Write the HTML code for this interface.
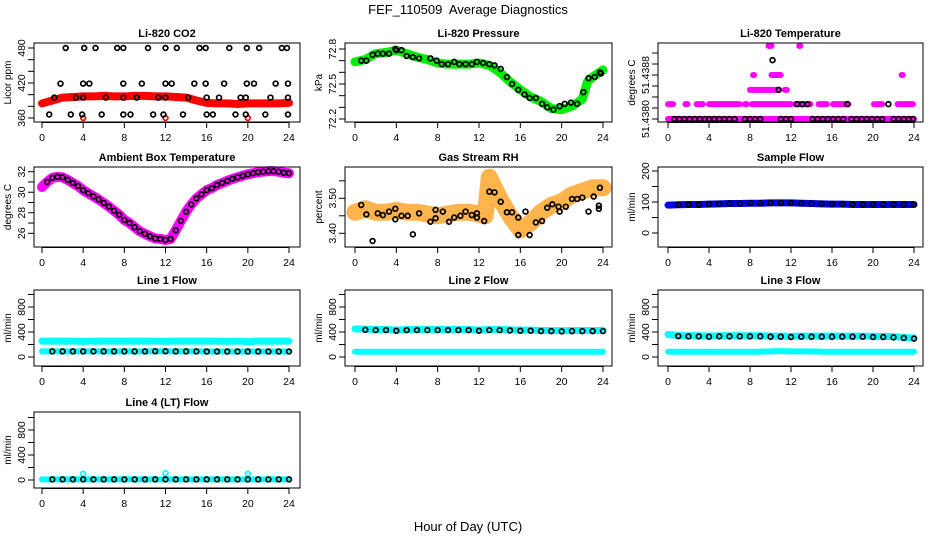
<!DOCTYPE html>
<html><head><meta charset="utf-8"><style>
html,body{margin:0;padding:0;background:#fff}
svg{display:block;font-family:"Liberation Sans",Arial,sans-serif}
</style></head><body>
<svg id="chart" width="936" height="540" viewBox="0 0 936 540">
<rect width="936" height="540" fill="#fff"/>
<text x="468" y="14" text-anchor="middle" font-size="13" xml:space="preserve">FEF_110509&#160; Average Diagnostics</text>
<text x="468" y="531" text-anchor="middle" font-size="13">Hour of Day (UTC)</text>
</svg>
<script>
// ---- data ----
const hourly = [0,1,2,3,4,5,6,7,8,9,10,11,12,13,14,15,16,17,18,19,20,21,22,23,24];
const co2Band = [385,390,395,396,397,397,398,397,397,398,398,397,397,396,395,390,386,385,385,384,385,385,385,385,386];
const co2PtH = [2.3,4.1,5.2,7.3,7.9,10.3,12,13.1,15.3,15.9,18.2,19.9,21.1,23.3,23.8, 1.8,4,4.6,7.9,9.7,12,12.6,14.8,15.9,17.7,19.9,20.6,22.7,23.9, 1.2,3.3,4,6.2,7.9,9.2,11.3,12,14.2,16,17.2,19.3,19.8,22.2,23.9, 0.7,2.8,3.9,5.8,7.9,8.6,10.8,11.8,13.7,16,16.6,18.8,19.8,21.7,23.9];
const co2PtV = [480,480,480,480,480,480,480,480,480,480,480,480,480,480,480, 419,419,419,419,419,419,419,419,419,419,419,419,419,419, 395,395,395,395,395,395,395,395,395,395,395,395,395,395,395, 366,366,366,366,366,366,366,366,366,366,366,366,366,366,366];
const co2RedH = [4,12,20];
const co2RedV = [360,360,360];

const pressBandH = [0,1,2,3,4,5,6,7,8,9,10,11,12,13,14,15,16,17,18,19,20,21,22,22.5,23,24];
const pressBand = [72.69,72.71,72.76,72.77,72.79,72.76,72.73,72.71,72.68,72.67,72.67,72.67,72.68,72.66,72.60,72.52,72.45,72.39,72.35,72.29,72.28,72.31,72.37,72.52,72.56,72.62];
const pressPtH = [0.6,1.1,1.7,2.2,2.7,3.3,3.9,4.0,4.5,5.0,5.6,6.2,7.3,7.9,8.4,9.0,9.6,10.1,10.7,11.3,11.8,12.4,13.0,13.5,14.1,14.7,15.2,15.8,16.4,16.9,17.5,18.1,18.6,19.2,19.8,20.3,20.9,21.5,22.1,22.6,23.2,23.7,23.8];
const pressPtV = [72.70,72.70,72.75,72.76,72.76,72.76,72.80,72.79,72.79,72.74,72.73,72.72,72.72,72.70,72.67,72.67,72.69,72.67,72.67,72.67,72.69,72.68,72.67,72.66,72.63,72.56,72.50,72.45,72.41,72.38,72.38,72.33,72.30,72.28,72.31,72.33,72.34,72.33,72.43,72.55,72.56,72.60,72.59];

const tempSegStart = [0,0,1.7,2.8,4.0,7.5,8.2,12.4,14.7,16.1,20.1,22.4, 8.0,11.4, 8.3,10.1,22.8, 9.8,12.8];
const tempSegEnd   = [24,0.5,1.9,3.4,7.0,7.7,12.0,13.9,15.5,17.6,20.9,23.9, 10.8,11.6, 8.4,11.0,22.9, 10.1,12.9];
const tempSegV = [51.43800,51.43827,51.43827,51.43827,51.43827,51.43827,51.43827,51.43827,51.43827,51.43827,51.43827,51.43827, 51.43853,51.43853, 51.43880,51.43880,51.43880, 51.43933,51.43933];
const tempPtH = [0.6,1.1,1.6,2.1,2.6,3.1,3.6,4.0,4.5,5.0,5.5,6.0,6.5,7.5,8.0,8.5,9.0,11.0,11.5,12.0,14.1,14.6,15.1,15.6,16.1,16.6,17.1,17.9,18.4,18.9,19.4,19.9,20.4,20.9,22.0,22.5,23.0,23.5,23.9, 12.6,13.1,13.6,17.5,21.5, 10.8, 10.2];
const tempPtV = [51.438,51.438,51.438,51.438,51.438,51.438,51.438,51.438,51.438,51.438,51.438,51.438,51.438,51.438,51.438,51.438,51.438,51.438,51.438,51.438,51.438,51.438,51.438,51.438,51.438,51.438,51.438,51.438,51.438,51.438,51.438,51.438,51.438,51.438,51.438,51.438,51.438,51.438,51.438, 51.43827,51.43827,51.43827,51.43827,51.43827, 51.43853, 51.43907];

const ambH = [0,0.5,1,1.5,2,2.5,3,3.5,4,4.5,5,5.5,6,6.5,7,7.5,8,8.5,9,9.5,10,10.5,11,11.5,12,12.5,13,13.5,14,14.5,15,15.5,16,16.5,17,17.5,18,18.5,19,19.5,20,20.5,21,21.5,22,22.5,23,23.5,24];
const ambV = [30.5,31.0,31.4,31.5,31.45,31.2,30.9,30.6,30.2,29.9,29.6,29.3,28.95,28.6,28.2,27.8,27.3,27.0,26.6,26.2,25.95,25.7,25.5,25.45,25.35,25.45,26.3,27.2,28.1,28.8,29.4,29.8,30.2,30.4,30.7,30.9,31.1,31.3,31.45,31.6,31.75,31.85,31.95,32.0,32.05,32.05,32.0,31.9,31.85];

const rhBandH = [0,1,2,3,4,5,6,7,8,9,10,11,12,12.6,13,13.5,14,15,16,17,18,19,20,21,22,23,24];
const rhBand = [3.46,3.47,3.46,3.46,3.465,3.46,3.46,3.455,3.45,3.455,3.46,3.46,3.455,3.45,3.56,3.53,3.50,3.45,3.41,3.43,3.46,3.48,3.49,3.51,3.52,3.53,3.53];
const rhPtH = [0.6,1.1,1.7,2.2,2.7,3.3,3.9,3.9,4.5,5.1,5.6,6.2,7.3,7.8,7.8,8.5,9.1,9.6,10.2,10.7,11.3,11.8,11.8,12.5,13,13.5,14.1,14.7,15.2,15.8,15.8,16.5,16.9,17.5,18.1,18.6,19.1,19.7,19.8,20.4,21,21.5,22,22.6,23.1,23.7,23.6,23.6];
const rhPtV = [3.481,3.454,3.378,3.457,3.452,3.462,3.47,3.44,3.45,3.45,3.397,3.457,3.433,3.467,3.443,3.462,3.433,3.445,3.45,3.462,3.452,3.457,3.445,3.435,3.519,3.517,3.49,3.46,3.46,3.445,3.395,3.462,3.395,3.431,3.435,3.473,3.483,3.476,3.462,3.476,3.498,3.498,3.502,3.462,3.505,3.53,3.479,3.47];

const sampleV = [90,91,92,92,93,94,95,95,96,96,97,97,97,96,95,94,93,93,92,92,92,92,92,92,92];
const l1Top = [255,255,255,255,250,255,255,255,255,255,255,255,250,255,255,255,255,255,250,255,245,255,255,255,255];
const l1Low = [90,90,90,90,90,90,90,90,90,90,90,92,92,90,90,90,88,88,88,88,88,88,88,88,88];
const l2Top = [450,445,440,440,430,440,440,440,440,440,440,440,430,440,440,435,430,430,425,425,420,425,425,425,425];
const l2Low = [85,85,85,85,85,85,85,85,85,85,85,85,85,85,85,85,85,85,85,85,85,85,85,85,85];
const l3Top = [360,345,340,340,335,340,340,340,340,340,335,335,330,335,335,335,335,335,335,335,330,330,325,315,305];
const l3Low = [85,85,85,85,85,85,85,85,85,85,90,95,90,90,90,85,85,85,85,85,85,85,85,85,85];
const l4V = [10,10,10,10,10,10,10,10,10,10,10,10,10,10,10,10,10,10,10,10,10,10,10,10,10];
const l4BumpH = [4,12,20];
const l4BumpV = [100,110,100];

// ---- drawing ----
const NS = 'http://www.w3.org/2000/svg';
const svg = document.getElementById('chart');
function mk(tag, attrs, parent){ const e=document.createElementNS(NS,tag); for(const k in attrs) e.setAttribute(k,attrs[k]); (parent||svg).appendChild(e); return e; }

const cols = [{x0:34,x1:300,h0:42,h24:289},{x0:345,x1:612,h0:355,h24:603},{x0:658,x1:923,h0:668,h24:914}];
const rows = [{y0:43,y1:122},{y0:167,y1:247},{y0:290,y1:366},{y0:412,y1:488}];

function makePanel(name, title, ylab, c, r, v1, p1, v2, p2, ticks, labels){
  const col=cols[c], row=rows[r];
  const g = mk('g',{});
  
  
  const xs = h => col.h0 + (col.h24-col.h0)*h/24;
  const ys = v => p1 + (p2-p1)*(v-v1)/(v2-v1);
  const t = mk('text',{x:(col.x0+col.x1)/2,y:row.y0-6,'text-anchor':'middle','font-size':11,'font-weight':'bold'},g);
  t.textContent = title;
  
  
  const yl = mk('text',{transform:`translate(${col.x0-23},${(row.y0+row.y1)/2}) rotate(-90)`,'text-anchor':'middle','font-size':10},g);
  yl.textContent = ylab;
  
  
  for(let h=0; h<=24; h+=4){
    const x=xs(h);
    mk('line',{x1:x,x2:x,y1:row.y1,y2:row.y1+6,stroke:'#000'},g);
    const tl = mk('text',{x:x,y:row.y1+19,'text-anchor':'middle','font-size':10.5},g);
    tl.textContent = h;
    
    
  }
  mk('line',{x1:xs(0),x2:xs(24),y1:row.y1+0.5,y2:row.y1+0.5,stroke:'#000'},g);
  ticks.forEach(v=>{
    const y=ys(v);
    mk('line',{x1:col.x0-6,x2:col.x0,y1:y,y2:y,stroke:'#000'},g);
  });
  labels.forEach(l=>{
    const y=ys(l.v);
    const tl = mk('text',{transform:`translate(${col.x0-9},${y}) rotate(-90)`,'text-anchor':'middle','font-size':10.5},g);
    tl.textContent = l.t;
    
    
  });
  const plot = mk('g',{},g);
  mk('rect',{x:col.x0,y:row.y0,width:col.x1-col.x0,height:row.y1-row.y0,fill:'none',stroke:'#000'},g);
  return {g:plot, xs, ys};
}
function band(P, hs, vs, color, w, name, op){
  const pts = hs.map((h,i)=>P.xs(h)+','+P.ys(vs[i])).join(' ');
  const e = mk('polyline',{points:pts,fill:'none',stroke:color,'stroke-width':w,'stroke-linejoin':'round','stroke-linecap':'round','stroke-opacity':op||1},P.g);
  
  
}
function pts(P, hs, vs, color, name, r){
  hs.forEach((h,i)=>{
    const e = mk('circle',{cx:P.xs(h),cy:P.ys(vs[i]),r:r||2.4,fill:'none',stroke:color,'stroke-width':1.7},P.g);
    
    
  });
}
function rng(a,b,s){const o=[];for(let v=a;v<=b+1e-9;v+=s)o.push(+v.toFixed(6));return o;}

let P = makePanel('co2-panel','Li-820 CO2','Licor ppm',0,0,480,48,360,118,rng(360,480,20),[{v:360,t:'360'},{v:420,t:'420'},{v:480,t:'480'}]);
band(P,hourly,co2Band,'#ff0000',8,'co2-band');
pts(P,co2RedH,co2RedV,'#ff0000','co2-red-point');
pts(P,co2PtH,co2PtV,'#000','co2-point');

P = makePanel('pressure-panel','Li-820 Pressure','kPa',1,0,72.8,49,72.2,119,rng(72.2,72.8,0.1),[{v:72.2,t:'72.2'},{v:72.5,t:'72.5'},{v:72.8,t:'72.8'}]);
band(P,pressBandH,pressBand,'#00ee00',9,'pressure-band');
pts(P,pressPtH,pressPtV,'#000','pressure-point');

P = makePanel('li820-temp-panel','Li-820 Temperature','degrees C',2,0,51.4380,119,51.4392,53,rng(51.4380,51.4392,0.0002),[{v:51.4380,t:'51.4380'},{v:51.4388,t:'51.4388'}]);
tempSegStart.forEach((s,i)=>{
  const e = mk('line',{x1:P.xs(s),x2:P.xs(tempSegEnd[i]),y1:P.ys(tempSegV[i]),y2:P.ys(tempSegV[i]),stroke:'#ff00ff','stroke-width':6,'stroke-linecap':'round'},P.g);
  
  
});
pts(P,tempPtH,tempPtV,'#000','temp-point');

P = makePanel('ambient-temp-panel','Ambient Box Temperature','degrees C',0,1,32,171.7,26,233.3,rng(26,32,1),[{v:26,t:'26'},{v:28,t:'28'},{v:30,t:'30'},{v:32,t:'32'}]);
band(P,ambH,ambV,'#ff00ff',10,'ambient-band');
pts(P,ambH.slice(1),ambV.slice(1),'#000','ambient-point');

P = makePanel('rh-panel','Gas Stream RH','percent',1,1,3.50,198.3,3.40,233.3,rng(3.40,3.55,0.05),[{v:3.40,t:'3.40'},{v:3.50,t:'3.50'}]);
band(P,rhBandH,rhBand,'#ffa020',17,'rh-band',0.8);
pts(P,rhPtH,rhPtV,'#000','rh-point');

P = makePanel('sample-flow-panel','Sample Flow','ml/min',2,1,0,233,200,171,rng(0,200,50),[{v:0,t:'0'},{v:100,t:'100'},{v:200,t:'200'}]);
band(P,hourly,sampleV,'#0000ee',7,'sample-band');
pts(P,hourly.slice(1),sampleV.slice(1),'#000','sample-point');

const flowLabels=[{v:0,t:'0'},{v:400,t:'400'},{v:800,t:'800'}];
P = makePanel('line1-panel','Line 1 Flow','ml/min',0,2,0,357,800,307,rng(0,1000,200),flowLabels);
band(P,hourly,l1Top,'#00ffff',7,'line1-top-band');
band(P,hourly,l1Low,'#00ffff',6,'line1-low-band');
pts(P,hourly.slice(1),l1Low.slice(1),'#000','line1-point');
P = makePanel('line2-panel','Line 2 Flow','ml/min',1,2,0,357,800,307,rng(0,1000,200),flowLabels);
band(P,hourly,l2Top,'#00ffff',7,'line2-top-band');
band(P,hourly,l2Low,'#00ffff',6,'line2-low-band');
pts(P,hourly.slice(1),l2Top.slice(1).map(v=>v-10),'#000','line2-point');
P = makePanel('line3-panel','Line 3 Flow','ml/min',2,2,0,357,800,307,rng(0,1000,200),flowLabels);
band(P,hourly,l3Top,'#00ffff',7,'line3-top-band');
band(P,hourly,l3Low,'#00ffff',6,'line3-low-band');
pts(P,hourly.slice(1),l3Top.slice(1).map(v=>v-10),'#000','line3-point');
P = makePanel('line4-panel','Line 4 (LT) Flow','ml/min',0,3,0,480,800,430,rng(0,1000,200),flowLabels);
band(P,hourly,l4V,'#00ffff',6,'line4-band');
pts(P,l4BumpH,l4BumpV,'#00ffff','line4-bump-point');
pts(P,hourly.slice(1),l4V.slice(1),'#000','line4-point');
</script>
</body></html>
